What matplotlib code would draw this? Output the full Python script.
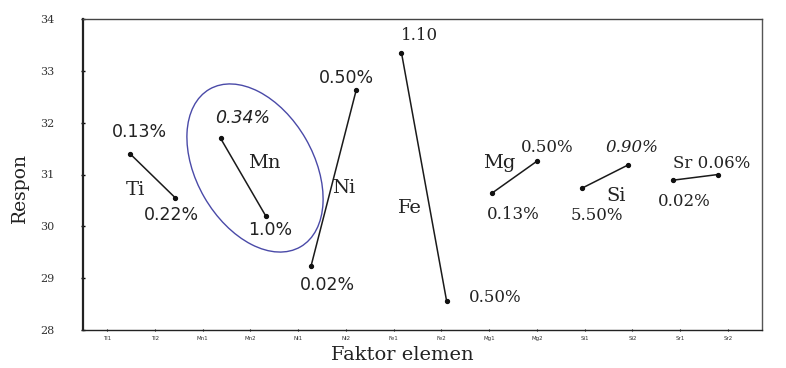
import matplotlib
matplotlib.use("Agg")
import matplotlib.pyplot as plt
from matplotlib.patches import Ellipse

# ---------------- data ----------------
levels = ["Ti1", "Ti2", "Mn1", "Mn2", "Ni1", "Ni2", "Fe1", "Fe2",
          "Mg1", "Mg2", "Si1", "Si2", "Sr1", "Sr2"]
elements = ["Ti", "Mn", "Ni", "Fe", "Mg", "Si", "Sr"]
respon = [31.40, 30.55, 31.70, 30.20, 29.23, 32.63, 33.35, 28.55,
          30.64, 31.26, 30.74, 31.18, 30.89, 31.00]
level_text = ["0.13%", "0.22%", "0.34%", "1.0%", "0.02%", "0.50%", "1.10", "0.50%",
              "0.13%", "0.50%", "5.50%", "0.90%", "0.02%", "0.06%"]
y_ticks = [28, 29, 30, 31, 32, 33, 34]

# ---------------- layout (text positions in data coords) ----------------
elem_pos = [(0.13, 30.70), (2.96, 31.22), (4.73, 30.74), (6.19, 30.35),
            (8.16, 31.22), (10.74, 30.58), (12.64, 31.22)]
lvl_pos = [(0.20, 31.82), (0.91, 30.22), (2.50, 32.09), (3.10, 29.93),
           (4.36, 28.87), (4.78, 32.86), (6.39, 33.69), (8.07, 28.62),
           (8.47, 30.22), (9.22, 31.53), (10.33, 30.20), (11.10, 31.53),
           (12.25, 30.47), (13.70, 31.22)]
sans_idx = {0, 1, 2, 3, 4, 5}
italic_idx = {2, 11}

W, H = 786, 368
fig = plt.figure(figsize=(W / 100, H / 100), dpi=100)
ax = fig.add_axes([83 / W, 1 - 330 / H, (762 - 83) / W, (330 - 19) / H])

x = list(range(len(levels)))
for k in range(len(elements)):
    xs = x[2 * k:2 * k + 2]
    ys = respon[2 * k:2 * k + 2]
    ax.plot(xs, ys, color="#1a1a1a", lw=1.1, marker="o", ms=2.8,
            mfc="#111111", mec="#111111")

ax.set_xlim(-1.04, 13.97)
ax.set_ylim(28, 34)
ax.set_yticks(y_ticks)
ax.set_yticklabels([str(v) for v in y_ticks], family="DejaVu Serif",
                   fontsize=8, color="#333333")
tick_x = [-0.51 + 1.056 * i for i in range(len(levels))]
ax.set_xticks(tick_x)
ax.set_xticklabels(levels, fontsize=4, color="#333333", family="DejaVu Sans")
ax.tick_params(axis="y", length=3, width=1, pad=19, direction="inout")
ax.tick_params(axis="x", length=2, width=0.8, pad=3, direction="inout")

for s in ax.spines.values():
    s.set_color("#222222")
    s.set_linewidth(1.0)
ax.spines["left"].set_linewidth(1.6)
ax.spines["top"].set_color("#444444")
ax.spines["right"].set_color("#555555")

# element names
for name, (tx, ty) in zip(elements, elem_pos):
    if name == "Sr":
        continue
    ax.text(tx, ty, name, family="DejaVu Serif", fontsize=14,
            ha="center", va="center", color="#222222")

# level labels
for i, (t, (tx, ty)) in enumerate(zip(level_text, lvl_pos)):
    if i == 13:
        continue
    fam = "DejaVu Sans" if i in sans_idx else "DejaVu Serif"
    style = "italic" if i in italic_idx else "normal"
    size = 12.5 if i in sans_idx else 12
    ax.text(tx, ty, t, family=fam, fontsize=size, style=style,
            ha="center", va="center", color="#222222", clip_on=False)

# Sr label combined
sx, sy = lvl_pos[13]
ax.text(sx, sy, elements[6] + " " + level_text[13], family="DejaVu Serif",
        fontsize=12, ha="right", va="center", color="#222222", clip_on=False)

# blue ellipse around Mn (in figure pixels)
ell = Ellipse((255 / 100, (H - 168) / 100), width=1.17, height=1.82, angle=30,
              transform=fig.dpi_scale_trans, fill=False, edgecolor="#4a4aa8",
              lw=1.0)
fig.patches.append(ell)

fig.text(20 / W, 1 - 188 / H, "Respon", rotation=90, family="DejaVu Serif",
         fontsize=13.5, ha="center", va="center", color="#222222")
fig.text(402 / W, 1 - 355 / H, "Faktor elemen", family="DejaVu Serif",
         fontsize=14, ha="center", va="center", color="#222222")

fig.savefig("out.png", dpi=100)
